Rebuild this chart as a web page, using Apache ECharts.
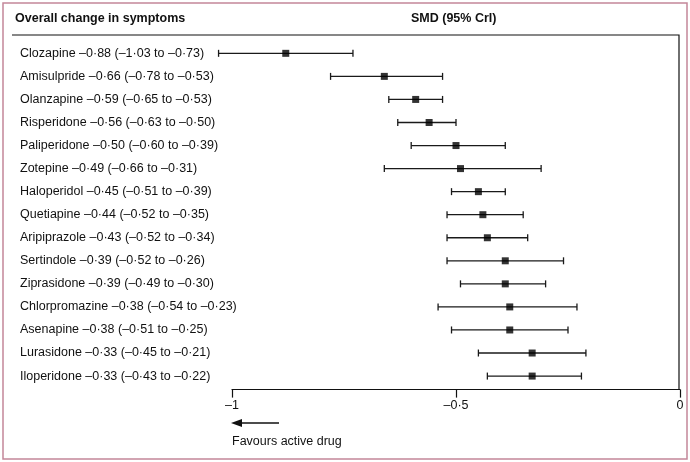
<!DOCTYPE html>
<html>
<head>
<meta charset="utf-8">
<script src="https://cdn.jsdelivr.net/npm/echarts@6/dist/echarts.min.js"></script>
<style>
  html, body { margin: 0; padding: 0; background: #fff; }
  #chart { width: 690px; height: 462px; }
</style>
</head>
<body>
<div id="chart"></div>
<script>
var drugs = ['Clozapine', 'Amisulpride', 'Olanzapine', 'Risperidone', 'Paliperidone', 'Zotepine',
    'Haloperidol', 'Quetiapine', 'Aripiprazole', 'Sertindole', 'Ziprasidone', 'Chlorpromazine',
    'Asenapine', 'Lurasidone', 'Iloperidone'];
var smd = [-0.88, -0.66, -0.59, -0.56, -0.50, -0.49, -0.45, -0.44, -0.43, -0.39, -0.39, -0.38, -0.38, -0.33, -0.33];
var lower = [-1.03, -0.78, -0.65, -0.63, -0.60, -0.66, -0.51, -0.52, -0.52, -0.52, -0.49, -0.54, -0.51, -0.45, -0.43];
var upper = [-0.73, -0.53, -0.53, -0.50, -0.39, -0.31, -0.39, -0.35, -0.34, -0.26, -0.30, -0.23, -0.25, -0.21, -0.22];
var xTicks = [-1, -0.5, 0];

var FONT = '"Liberation Sans", Arial, sans-serif';

function fmt(v) {
    var s = Math.abs(v).toFixed(2).replace('.', '\u00b7');
    return (v < 0 ? '\u2013' : '') + s;
}
function tickFmt(v) {
    if (v === 0) return '0';
    var s = String(Math.abs(v)).replace('.', '\u00b7');
    return (v < 0 ? '\u2013' : '') + s;
}

var labels = drugs.map(function (d, i) {
    return d + ' ' + fmt(smd[i]) + ' (' + fmt(lower[i]) + ' to ' + fmt(upper[i]) + ')';
});

var ciData = drugs.map(function (d, i) { return [lower[i], upper[i], i]; });
var pointData = drugs.map(function (d, i) { return [smd[i], i]; });

var myChart = echarts.init(document.getElementById('chart'));
var option = {
    animation: false,
    textStyle: { fontFamily: FONT },
    grid: { left: 232, right: 10, top: 41.8, bottom: 74.4 },
    xAxis: {
        type: 'value', min: -1, max: 0, interval: 0.5, offset: 2,
        axisLine: { show: true, lineStyle: { color: '#111', width: 1.2 } },
        axisTick: { show: true, length: 8, lineStyle: { color: '#111', width: 1.2 },
            customValues: xTicks },
        axisLabel: { color: '#111', fontSize: 12.5, fontFamily: FONT, margin: 9,
            customValues: xTicks, formatter: tickFmt },
        splitLine: { show: false }
    },
    yAxis: {
        type: 'category', data: labels, inverse: true,
        axisLine: { show: false }, axisTick: { show: false },
        axisLabel: { align: 'left', margin: 212, color: '#111', fontSize: 12.5, fontFamily: FONT }
    },
    series: [{
        type: 'custom',
        data: ciData,
        renderItem: function (params, api) {
            var a = api.coord([api.value(0), api.value(2)]);
            var b = api.coord([api.value(1), api.value(2)]);
            var h = 3.5;
            var st = { stroke: '#1a1a1a', lineWidth: 1.3 };
            return {
                type: 'group',
                children: [
                    { type: 'line', shape: { x1: a[0], y1: a[1], x2: b[0], y2: b[1] }, style: st },
                    { type: 'line', shape: { x1: a[0], y1: a[1] - h, x2: a[0], y2: a[1] + h }, style: st },
                    { type: 'line', shape: { x1: b[0], y1: b[1] - h, x2: b[0], y2: b[1] + h }, style: st }
                ]
            };
        },
        encode: { x: [0, 1], y: 2 },
        z: 2
    }, {
        type: 'scatter',
        data: pointData,
        symbol: 'rect',
        symbolSize: 7,
        itemStyle: { color: '#000' },
        z: 3
    }],
    graphic: [
        { type: 'rect', shape: { x: 3, y: 3, width: 684, height: 456 },
          style: { fill: 'none', stroke: '#c48799', lineWidth: 1.5 }, silent: true },
        { type: 'text', left: 15, top: 12,
          style: { text: 'Overall change in symptoms', font: '600 12.5px ' + FONT, fill: '#111' } },
        { type: 'text', left: 411, top: 12,
          style: { text: 'SMD (95% CrI)', font: '600 12.5px ' + FONT, fill: '#111' } },
        { type: 'polyline', shape: { points: [[12, 35], [679, 35], [679, 390]] },
          style: { fill: 'none', stroke: '#111', lineWidth: 1.2 } },
        { type: 'line', shape: { x1: 240, y1: 423, x2: 279, y2: 423 },
          style: { stroke: '#111', lineWidth: 1.5 } },
        { type: 'polygon', shape: { points: [[231, 423], [242, 419], [242, 427]] },
          style: { fill: '#111' } },
        { type: 'text', left: 232, top: 435,
          style: { text: 'Favours active drug', font: '12.5px ' + FONT, fill: '#111' } }
    ]
};
myChart.setOption(option);
</script>
</body>
</html>
